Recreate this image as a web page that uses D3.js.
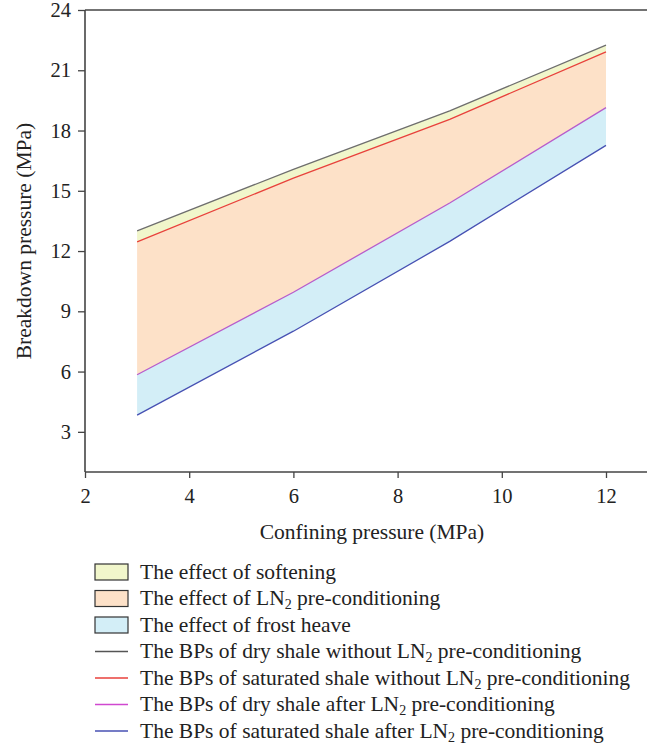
<!DOCTYPE html>
<html>
<head>
<meta charset="utf-8">
<script src="https://cdn.jsdelivr.net/npm/d3@7"></script>
<style>
  html, body { margin: 0; padding: 0; background: #fff; }
  svg { display: block; }
  svg text { font-family: "Liberation Serif", "DejaVu Serif", serif; fill: #222; }
</style>
</head>
<body>
<svg id="chart" width="647" height="744"></svg>
<script>
// Confining pressure (MPa)
const confining = [3, 6, 9, 12];
// Breakdown pressures (MPa)
const dryWithout = [13.0, 16.07, 18.98, 22.25];
const satWithout = [12.46, 15.63, 18.56, 21.92];
const dryAfter   = [5.84, 9.95, 14.39, 19.14];
const satAfter   = [3.83, 8.01, 12.48, 17.26];

const xTicks = [2, 4, 6, 8, 10, 12];
const yTicks = [3, 6, 9, 12, 15, 18, 21, 24];

const bands = [
  { upper: dryWithout, lower: satWithout, fill: "#f1f6cb" },
  { upper: satWithout, lower: dryAfter,   fill: "#fde1c8" },
  { upper: dryAfter,   lower: satAfter,   fill: "#d3eef7" }
];
const curves = [
  { values: dryWithout, color: "#6e6e6e" },
  { values: satWithout, color: "#e8413b" },
  { values: dryAfter,   color: "#b75ccb" },
  { values: satAfter,   color: "#4751b3" }
];

const legendItems = [
  { type: "box",  fill: "#f1f6cb", text: ["The effect of softening"] },
  { type: "box",  fill: "#fde1c8", text: ["The effect of LN", "2", " pre-conditioning"] },
  { type: "box",  fill: "#d3eef7", text: ["The effect of frost heave"] },
  { type: "line", color: "#555555", text: ["The BPs of dry shale without LN", "2", " pre-conditioning"] },
  { type: "line", color: "#e8413b", text: ["The BPs of saturated shale without LN", "2", " pre-conditioning"] },
  { type: "line", color: "#d048d0", text: ["The BPs of dry shale after LN", "2", " pre-conditioning"] },
  { type: "line", color: "#4751b3", text: ["The BPs of saturated shale after LN", "2", " pre-conditioning"] }
];

const serif = "'Liberation Serif', 'DejaVu Serif', serif";
const svg = d3.select("#chart");
const plotL = 85, plotR = 647, plotT = 10, plotB = 472;

const x = d3.scaleLinear().domain([2, 2 + (plotR - plotL) / 52.1]).range([plotL, plotR]);
const y = d3.scaleLinear().domain([1, 24]).range([plotB, plotT]);

const pts = vals => confining.map((c, i) => [c, vals[i]]);

// shaded bands between neighbouring curves
const area = d3.area()
  .x(d => x(d.c))
  .y0(d => y(d.lo))
  .y1(d => y(d.hi));
bands.forEach(b => {
  const data = confining.map((c, i) => ({ c, hi: b.upper[i], lo: b.lower[i] }));
  svg.append("path").attr("d", area(data)).attr("fill", b.fill).attr("stroke", "none");
});

// breakdown pressure curves
const line = d3.line().x(d => x(d[0])).y(d => y(d[1]));
curves.forEach(l => {
  svg.append("path").attr("d", line(pts(l.values)))
    .attr("fill", "none").attr("stroke", l.color).attr("stroke-width", 1.3);
});

// axes
const axisColor = "#444";
const xAxis = svg.append("g").attr("transform", `translate(0,${plotB})`)
  .call(d3.axisBottom(x).tickValues(xTicks).tickSize(6).tickPadding(10).tickFormat(d3.format("d")));
const yAxis = svg.append("g").attr("transform", `translate(${plotL},0)`)
  .call(d3.axisLeft(y).tickValues(yTicks).tickSize(7).tickPadding(7).tickFormat(d3.format("d")));
[xAxis, yAxis].forEach(g => {
  g.attr("font-family", serif).attr("font-size", 20.5);
  g.select(".domain").attr("stroke", axisColor).attr("stroke-width", 1.6);
  g.selectAll(".tick line").attr("stroke", axisColor).attr("stroke-width", 1.3);
  g.selectAll(".tick text").attr("fill", "#222");
});
yAxis.select(".domain").attr("d", `M0,${plotB}V${plotT}`);
xAxis.select(".domain").attr("d", `M${plotL},0H${plotR}`);
// top frame line
svg.append("line").attr("x1", plotL).attr("x2", plotR).attr("y1", plotT).attr("y2", plotT)
  .attr("stroke", axisColor).attr("stroke-width", 1.6);

// axis titles
svg.append("text").attr("x", 372).attr("y", 539).attr("text-anchor", "middle")
  .style("font-size", "21.5px").text("Confining pressure (MPa)");
svg.append("text").attr("transform", "translate(31,241) rotate(-90)").attr("text-anchor", "middle")
  .style("font-size", "21.5px").text("Breakdown pressure (MPa)");

// legend
const lg = svg.append("g");
legendItems.forEach((it, i) => {
  const cy = 572 + i * 26.5;
  if (it.type === "box") {
    lg.append("rect").attr("x", 95).attr("y", cy - 8).attr("width", 33).attr("height", 16)
      .attr("fill", it.fill).attr("stroke", "#333").attr("stroke-width", 1.2);
  } else {
    lg.append("line").attr("x1", 95).attr("x2", 128).attr("y1", cy).attr("y2", cy)
      .attr("stroke", it.color).attr("stroke-width", 1.3);
  }
  const t = lg.append("text").attr("x", 140).attr("y", cy + 6.5)
    .style("font-size", "21.5px");
  it.text.forEach((s, j) => {
    if (j === 1) {
      t.append("tspan").attr("dy", 4).style("font-size", "14px").text(s);
    } else if (j === 2) {
      t.append("tspan").attr("dy", -4).text(s);
    } else {
      t.append("tspan").text(s);
    }
  });
});
</script>
</body>
</html>
